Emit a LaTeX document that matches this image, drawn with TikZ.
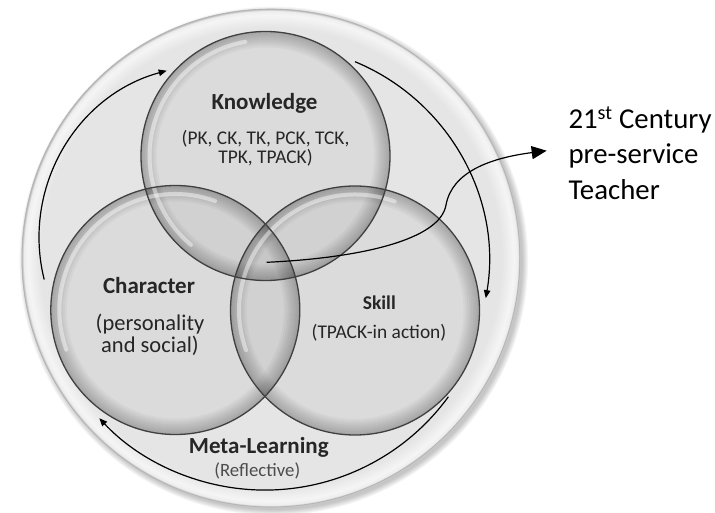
\documentclass[tikz,border=0pt]{standalone}
\usepackage{fontspec}
\setmainfont{Carlito}
\usetikzlibrary{arrows.meta}
\pgfdeclareradialshading{ring}{\pgfpoint{0bp}{0bp}}{color(0bp)=(black!10); color(23.2bp)=(black!10); color(24.4bp)=(black!4); color(24.8bp)=(black!7); color(25bp)=(black!28); color(50bp)=(black!28)}
\begin{document}
\begin{tikzpicture}[x=1pt,y=-1pt,
  ringc/.style={circle, minimum size=498pt, inner sep=0pt, shading=ring, draw=black!30, line width=0.6pt},
  bub/.style={circle, minimum size=249pt, inner sep=0pt},
  hl/.style={white, line width=4pt, opacity=0.45, line cap=round},
  outl/.style={draw=black!75, line width=1.3pt},
  cyc/.style={-{Triangle[length=8pt,width=6.5pt]}, line width=1.2pt, black},
  callout/.style={-{Triangle[length=15pt,width=13pt]}, line width=1.2pt, black},
  lbl/.style={inner sep=0pt, text=black!85, anchor=base},
  bigb/.style={font=\fontsize{23}{23}\selectfont\bfseries},
  midr/.style={font=\fontsize{19.4}{19.4}\selectfont},
  tch/.style={inner sep=0pt, text=black, anchor=base west, font=\fontsize{28.8}{28.8}\selectfont}
]
\useasboundingbox (0,0) rectangle (715,513);
% soft shadow of the outer disc
\foreach \i in {0,...,6} \fill[black, opacity=0.035] (273.8,261) circle[radius=249+\i*0.9];
\node[ringc] (O) at (270.8,258) {};
% three overlapping bubbles
\node[bub] (K) at (265.5,156) {};
\node[bub] (C) at (175.3,310) {};
\node[bub] (S) at (355,310.5) {};
\foreach \n in {K,C,S}{
  \fill[black, fill opacity=0.045] (\n.center) circle[radius=124.5];
  \foreach \w in {2,4,...,16}
    \draw[black, draw opacity=0.032, line width=\w pt] (\n.center) circle[radius=124.5-\w/2];
}
% highlights
\draw[hl] ([shift={(-100:116)}]K.center) arc[start angle=-100, end angle=-230, radius=116];
\draw[hl] ([shift={(-70:116)}]C.center) arc[start angle=-70, end angle=-200, radius=116];
\draw[hl] ([shift={(-70:116)}]S.center) arc[start angle=-70, end angle=-200, radius=116];
% outlines
\draw[outl] (K.center) circle[radius=124.5];
\draw[outl] (C.center) circle[radius=124.5];
\draw[outl] (S.center) circle[radius=124.5];
% cycle arrows
\coordinate (la) at (44.2,279.5);
\coordinate (ra) at (355,61.7);
\coordinate (ba) at (448.4,396.7);
\draw[cyc] (la) arc[start angle=-194, end angle=-105.2, radius=173];
\draw[cyc] (ra) arc[start angle=-67.5, end angle=9.6, radius=216.8];
\draw[cyc] (ba) arc[start angle=36.05, end angle=136.9, radius=226.9];
% labels
\node[lbl, bigb] (kt) at (264.5,110) {Knowledge};
\node[lbl, midr] (k1) at (265.5,145) {(PK, CK, TK, PCK, TCK,};
\node[lbl, midr] (k2) at (265.5,163.3) {TPK, TPACK)};
\node[lbl, bigb] (ct) at (149,294) {Character};
\node[lbl, align=center, font=\fontsize{22.5}{19.5}\selectfont] (c1) at (150,352) {(personality\\and social)};
\node[lbl, font=\fontsize{19.5}{19.5}\selectfont\bfseries] (st) at (379.3,309) {Skill};
\node[lbl, midr] (s1) at (379,338.3) {(TPACK-in action)};
\node[lbl, bigb] (mt) at (258.8,453.3) {Meta-Learning};
\node[lbl, text=black!70, font=\fontsize{18.8}{18.8}\selectfont] (m1) at (257.3,476) {(Reflective)};
% callout
\node[tch] (t1) at (568.3,128.3) {21\textsuperscript{st} Century};
\node[tch] (t2) at (568.3,163.3) {pre-service};
\node[tch] (t3) at (568.3,199.3) {Teacher};
\coordinate (cm) at (266.7,262.3);
\coordinate (tip) at (546.7,150.7);
\draw[callout] (cm) .. controls (360,258) and (440,240) .. (446,205) .. controls (452,172) and (490,158) .. (tip);
\end{tikzpicture}
\end{document}
